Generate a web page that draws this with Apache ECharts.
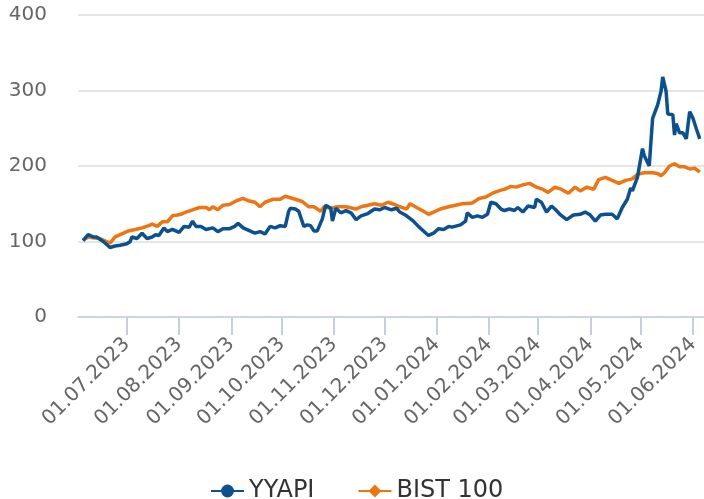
<!DOCTYPE html>
<html>
<head>
<meta charset="utf-8">
<script src="https://cdn.jsdelivr.net/npm/echarts@6/dist/echarts.min.js"></script>
<style>
html,body{margin:0;padding:0;background:#fff;}
#chart{width:704px;height:499px;}
</style>
</head>
<body>
<div id="chart"></div>
<script>
const seriesNames = ['YYAPI', 'BIST 100'];

const yyapiDates = [
'2023-06-05','2023-06-08','2023-06-11','2023-06-13','2023-06-17','2023-06-21','2023-06-24','2023-06-27','2023-07-01','2023-07-03',
'2023-07-04','2023-07-07','2023-07-10','2023-07-13','2023-07-16','2023-07-18','2023-07-20','2023-07-23','2023-07-25','2023-07-28',
'2023-08-01','2023-08-04','2023-08-07','2023-08-09','2023-08-11','2023-08-14','2023-08-17','2023-08-21','2023-08-24','2023-08-27',
'2023-08-31','2023-09-03','2023-09-05','2023-09-08','2023-09-11','2023-09-15','2023-09-18','2023-09-21','2023-09-24','2023-09-27',
'2023-09-30','2023-10-03','2023-10-05','2023-10-06','2023-10-09','2023-10-11','2023-10-14','2023-10-16','2023-10-18','2023-10-20',
'2023-10-22','2023-10-25','2023-10-27','2023-10-30','2023-10-31','2023-11-02','2023-11-05','2023-11-08','2023-11-11','2023-11-14',
'2023-11-17','2023-11-21','2023-11-25','2023-11-28','2023-12-01','2023-12-05','2023-12-08','2023-12-10','2023-12-14','2023-12-18',
'2023-12-21','2023-12-24','2023-12-27','2023-12-30','2024-01-02','2024-01-05','2024-01-08','2024-01-10','2024-01-15','2024-01-18',
'2024-01-19','2024-01-22','2024-01-25','2024-01-28','2024-01-31','2024-02-02','2024-02-05','2024-02-08','2024-02-10','2024-02-13',
'2024-02-16','2024-02-18','2024-02-21','2024-02-24','2024-02-28','2024-02-29','2024-03-03','2024-03-06','2024-03-09','2024-03-11',
'2024-03-14','2024-03-18','2024-03-22','2024-03-26','2024-03-29','2024-04-01','2024-04-04','2024-04-07','2024-04-10','2024-04-14',
'2024-04-17','2024-04-20','2024-04-23','2024-04-25','2024-04-26','2024-04-29','2024-05-02','2024-05-03','2024-05-06','2024-05-08',
'2024-05-11','2024-05-13','2024-05-14','2024-05-16','2024-05-17','2024-05-20','2024-05-21','2024-05-22','2024-05-24','2024-05-26',
'2024-05-28','2024-05-30','2024-06-01','2024-06-03','2024-06-05'
];
const yyapiValues = [
101,109,106,106,100,92,94,95,97,100,
106,104,111,104,106,109,108,118,113,116,
112,120,119,127,120,120,116,118,113,117,
117,120,124,118,115,111,113,110,120,118,
121,120,140,144,143,140,120,122,121,114,
114,130,148,144,127,144,138,141,138,129,
134,137,143,142,145,142,144,139,134,127,
120,114,108,111,117,116,120,119,122,127,
138,132,134,132,136,152,150,143,141,143,
141,145,139,147,145,156,152,139,147,143,
136,129,135,136,139,135,127,135,136,136,
130,145,156,171,167,185,223,214,200,263,
281,299,318,299,269,268,241,256,244,244,
236,272,263,249,236
];

const bistDates = [
'2023-06-05','2023-06-08','2023-06-11','2023-06-15','2023-06-17','2023-06-21','2023-06-24','2023-06-28','2023-07-02','2023-07-06',
'2023-07-10','2023-07-14','2023-07-16','2023-07-19','2023-07-22','2023-07-25','2023-07-28','2023-07-31','2023-08-02','2023-08-05',
'2023-08-09','2023-08-13','2023-08-17','2023-08-19','2023-08-21','2023-08-24','2023-08-27','2023-08-31','2023-09-04','2023-09-08',
'2023-09-11','2023-09-15','2023-09-18','2023-09-21','2023-09-26','2023-09-30','2023-10-03','2023-10-06','2023-10-09','2023-10-13',
'2023-10-17','2023-10-20','2023-10-24','2023-10-26','2023-10-30','2023-11-03','2023-11-08','2023-11-14','2023-11-17','2023-11-21',
'2023-11-25','2023-11-29','2023-12-03','2023-12-07','2023-12-10','2023-12-14','2023-12-16','2023-12-20','2023-12-24','2023-12-27',
'2023-12-31','2024-01-03','2024-01-08','2024-01-12','2024-01-16','2024-01-22','2024-01-26','2024-01-30','2024-02-03','2024-02-08',
'2024-02-10','2024-02-14','2024-02-17','2024-02-21','2024-02-25','2024-02-29','2024-03-04','2024-03-07','2024-03-11','2024-03-15',
'2024-03-19','2024-03-23','2024-03-26','2024-03-30','2024-04-03','2024-04-06','2024-04-10','2024-04-14','2024-04-18','2024-04-22',
'2024-04-26','2024-04-29','2024-05-03','2024-05-08','2024-05-11','2024-05-13','2024-05-15','2024-05-18','2024-05-21','2024-05-24',
'2024-05-27','2024-05-30','2024-06-02','2024-06-05'
];
const bistValues = [
102,106,105,104,102,98,106,110,114,116,
118,121,123,120,126,126,134,135,136,139,
142,145,145,142,146,142,148,149,154,157,
154,152,146,152,156,156,160,158,156,153,
146,146,140,146,144,146,146,143,146,148,
150,148,152,149,146,143,150,145,140,136,
140,143,146,148,150,151,157,159,164,168,
169,173,172,175,177,172,169,165,172,169,
164,172,167,172,169,182,185,181,177,181,
183,189,191,191,190,187,191,200,203,199,
199,196,197,192
];

const yTicks = [0, 100, 200, 300, 400];
const xLabelFormat = '{dd}.{MM}.{yyyy}';

const toTs = s => new Date(s + 'T00:00:00').getTime();
const FONT = '"DejaVu Sans", Verdana, sans-serif';

const chart = echarts.init(document.getElementById('chart'), null, {renderer: 'canvas'});
chart.setOption({
  animation: false,
  backgroundColor: '#ffffff',
  grid: {left: 78, right: 0, top: 15, bottom: 182, containLabel: false},
  legend: {
    left: 205, top: 474,
    itemWidth: 33, itemHeight: 16, itemGap: 43,
    textStyle: {fontFamily: FONT, fontSize: 24, color: '#333333'},
    data: seriesNames
  },
  xAxis: {
    type: 'time',
    z: 10,
    min: toTs('2023-06-02'),
    max: toTs('2024-06-07') + 12 * 3600 * 1000,
    splitNumber: 12,
    axisLine: {show: true, onZero: false, lineStyle: {color: '#ccd6eb', width: 2}},
    axisTick: {show: true, inside: false, length: 18, lineStyle: {color: '#c3cfe8', width: 2}},
    minorTick: {show: false},
    axisLabel: {
      rotate: 45, margin: 24,
      fontFamily: FONT, fontSize: 20, color: '#666666',
      formatter: xLabelFormat,
      hideOverlap: false
    },
    splitLine: {show: false}
  },
  yAxis: {
    type: 'value', min: yTicks[0], max: yTicks[yTicks.length - 1], interval: 100,
    axisLine: {show: false}, axisTick: {show: false},
    axisLabel: {fontFamily: FONT, fontSize: 20, color: '#666666', margin: 31},
    splitLine: {lineStyle: {color: '#e6e6e6', width: 2}}
  },
  series: [
    {
      name: seriesNames[0], type: 'line', z: 3,
      symbol: 'circle', showSymbol: false, symbolSize: 14,
      lineStyle: {width: 3.5, color: '#0b5190'}, itemStyle: {color: '#0b5190'},
      data: yyapiDates.map((d, i) => [toTs(d), yyapiValues[i]])
    },
    {
      name: seriesNames[1], type: 'line', z: 2,
      symbol: 'diamond', showSymbol: false, symbolSize: 14,
      lineStyle: {width: 3.5, color: '#ee7511'}, itemStyle: {color: '#ee7511'},
      data: bistDates.map((d, i) => [toTs(d), bistValues[i]])
    }
  ]
});
</script>
</body>
</html>
